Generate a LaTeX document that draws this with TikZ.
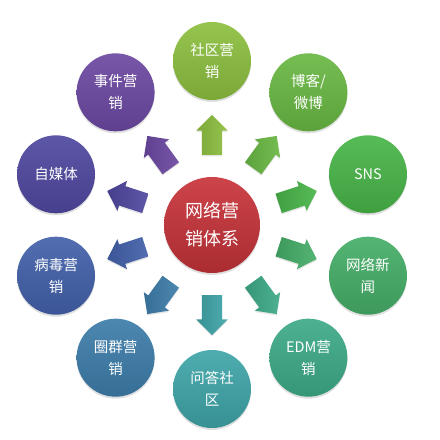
\documentclass[tikz,border=0pt]{standalone}
\usepackage{fontspec}
\setmainfont{Noto Sans CJK SC}
\usetikzlibrary{shapes.arrows,shadows,calc}
\definecolor{cHub}{HTML}{C8343A}
\definecolor{cA}{HTML}{8CBF3F}
\definecolor{cB}{HTML}{69B843}
\definecolor{cC}{HTML}{48B548}
\definecolor{cD}{HTML}{45AE68}
\definecolor{cE}{HTML}{3DAA88}
\definecolor{cF}{HTML}{3FA5A8}
\definecolor{cG}{HTML}{3D7DAA}
\definecolor{cH}{HTML}{4361AA}
\definecolor{cI}{HTML}{4F48A0}
\definecolor{cJ}{HTML}{6C48A2}
\begin{document}
\begin{tikzpicture}[
  bubble/.style={circle, minimum size=78pt, inner sep=0pt, text=white, align=center,
    font=\fontsize{14.5}{22}\selectfont,
    drop shadow={shadow xshift=0pt, shadow yshift=-2pt, opacity=0.25}},
  blockarrow/.style={single arrow, minimum height=40pt, inner sep=10pt,
    single arrow head extend=5.5pt,
    drop shadow={shadow xshift=0pt, shadow yshift=-1.5pt, opacity=0.2}}
]
\useasboundingbox (0,0) rectangle (440pt,440pt);
\coordinate (c) at (212pt,215pt);
\foreach \ang/\col/\txt [count=\i] in {90/cA/{社区营\\销}, 54/cB/{博客/\\微博}, 18/cC/SNS, -18/cD/{网络新\\闻}, -54/cE/{EDM营\\销}, -90/cF/{问答社\\区}, -126/cG/{圈群营\\销}, -162/cH/{病毒营\\销}, 162/cI/自媒体, 126/cJ/{事件营\\销}}
{
  \node[bubble, top color=\col!92!white, bottom color=\col!88!black] (o\i) at ($(c)+(\ang:164pt)$) {\txt};
  \node[blockarrow, rotate=\ang, left color=\col!88!black, right color=\col!92!white] (a\i) at ($(c)+(\ang:85pt)$) {};
}
\node[bubble, minimum size=96pt, top color=cHub!92!white, bottom color=cHub!85!black,
  font=\fontsize{18}{28}\selectfont] (hub) at (c) {网络营\\销体系};
\end{tikzpicture}
\end{document}
